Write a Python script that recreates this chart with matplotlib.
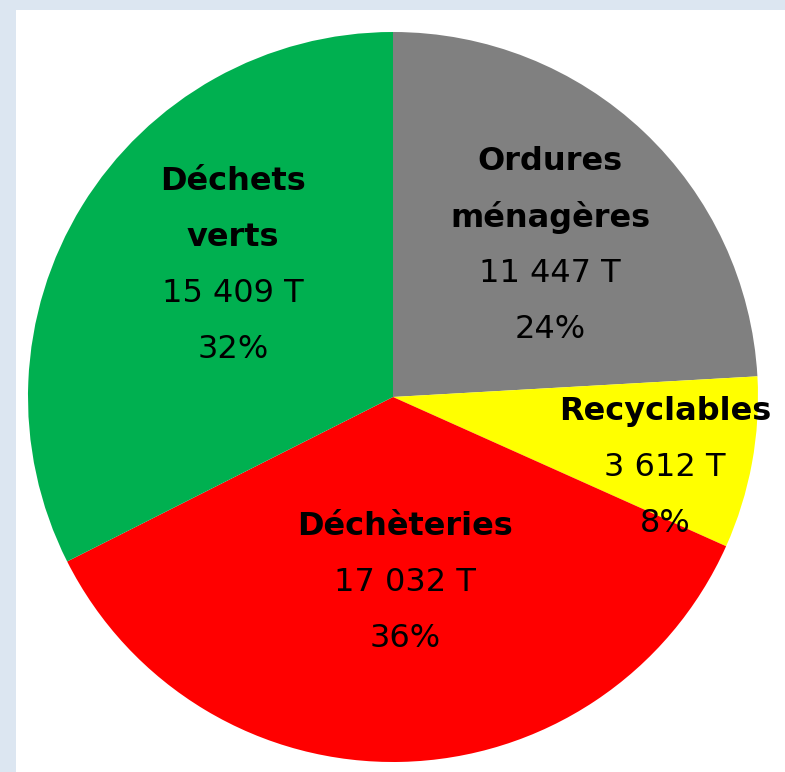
import matplotlib.pyplot as plt
from matplotlib.patches import Rectangle

# data
categories = ["Ordures\nménagères", "Recyclables", "Déchèteries", "Déchets\nverts"]
tonnes = [11447, 3612, 17032, 15409]
tonnes_labels = ["11 447 T", "3 612 T", "17 032 T", "15 409 T"]
percents = [24, 8, 36, 32]
colors = ["#808080", "#ffff00", "#ff0000", "#00b050"]

# label block centres (data units, pie radius = 1)
label_pos = [(0.43, 0.416), (0.745, -0.192), (0.033, -0.507), (-0.438, 0.359)]

CX, CY, R = 393, 397, 365  # pie centre / radius in pixels


def main():
    fig = plt.figure(figsize=(7.85, 7.72), dpi=100)
    fig.patch.set_facecolor("white")

    # light blue frame at top and left
    fig.patches.append(Rectangle((0, 1 - 10 / 772), 1, 10 / 772, transform=fig.transFigure,
                                 facecolor="#dce6f1", edgecolor="none"))
    fig.patches.append(Rectangle((0, 0), 16 / 785, 1, transform=fig.transFigure,
                                 facecolor="#dce6f1", edgecolor="none"))

    ax = fig.add_axes([0, 0, 1, 1])
    ax.set_facecolor("none")

    ax.pie(tonnes, colors=colors, startangle=90, counterclock=False,
           radius=1.0, wedgeprops=dict(linewidth=0))

    step = 56 / R
    for name, t, p, (x, y) in zip(categories, tonnes_labels, percents, label_pos):
        lines = name.split("\n")
        n_lines = len(lines)
        y0 = y + step * (n_lines + 1) / 2
        for i, line in enumerate(lines):
            ax.text(x, y0 - i * step, line, ha="center", va="center",
                    fontsize=23, fontweight="bold", clip_on=False)
        ax.text(x, y0 - n_lines * step, t, ha="center", va="center",
                fontsize=23, clip_on=False)
        ax.text(x, y0 - (n_lines + 1) * step, f"{p}%", ha="center", va="center",
                fontsize=23, clip_on=False)

    ax.set_xlim(-CX / R, (785 - CX) / R)
    ax.set_ylim(-(772 - CY) / R, CY / R)
    ax.set_aspect("auto")
    ax.axis("off")

    fig.savefig("out.png", dpi=100, facecolor="white")


if __name__ == "__main__":
    main()
